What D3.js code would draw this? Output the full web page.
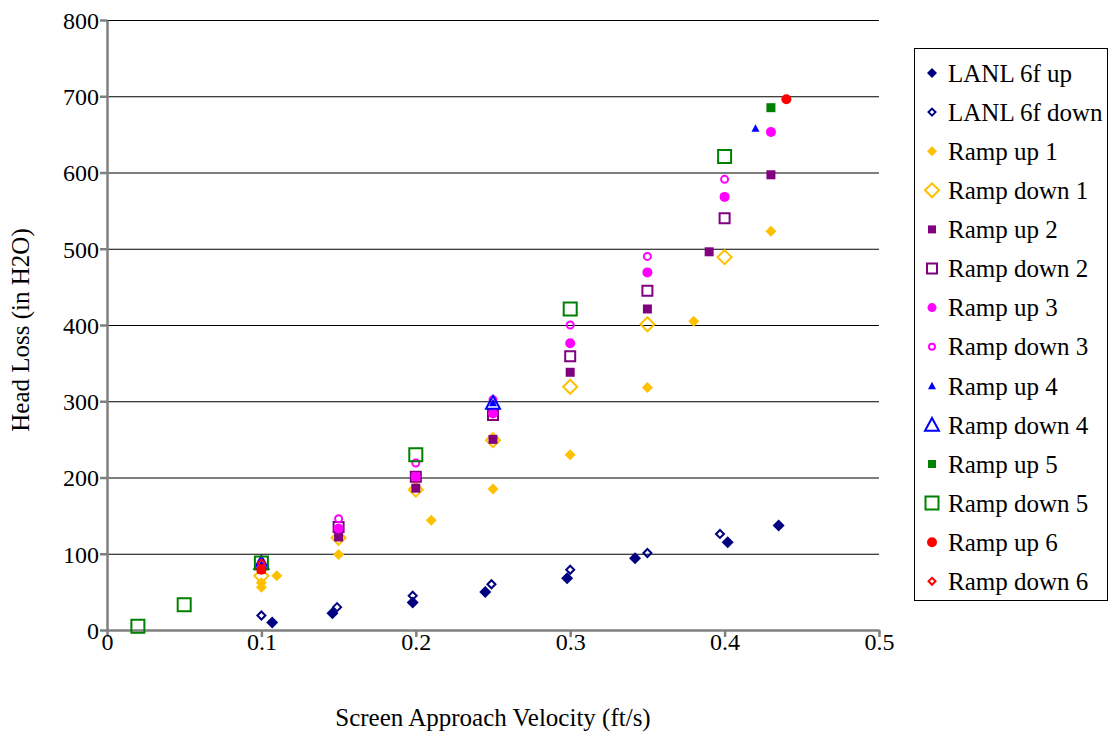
<!DOCTYPE html>
<html><head><meta charset="utf-8">
<script src="https://cdn.jsdelivr.net/npm/d3@7"></script>
<style>body{margin:0;background:#fff}svg{display:block}text{font-family:"Liberation Serif","Times New Roman",serif;fill:#000}</style>
</head><body><svg id="c" width="1112" height="736"></svg>
<script>
const xTicks=[0,0.1,0.2,0.3,0.4,0.5];
const yTicks=[0,100,200,300,400,500,600,700,800];
const xTickLabels=["0","0.1","0.2","0.3","0.4","0.5"];
const yTickLabels=["0","100","200","300","400","500","600","700","800"];

const lanlUpX=[0.107,0.146,0.198,0.245,0.298,0.342,0.402,0.435];
const lanlUpY=[10,22,36,50,68,94,115,137];
const lanlDownX=[0.1,0.149,0.198,0.249,0.3,0.35,0.397];
const lanlDownY=[19,30,45,60,79,101,126];
const up1X=[0.1,0.1,0.11,0.15,0.21,0.25,0.3,0.35,0.38,0.43];
const up1Y=[56,62,71,99,144,185,230,318,405,523];
const down1X=[0.1,0.15,0.2,0.25,0.3,0.35,0.4];
const down1Y=[71,121,184,249,319,401,489];
const up2X=[0.1,0.15,0.2,0.25,0.3,0.35,0.39,0.43];
const up2Y=[80,122,186,250,338,421,496,597];
const down2X=[0.15,0.2,0.25,0.3,0.35,0.4];
const down2Y=[135,201,282,359,445,540];
const up3X=[0.1,0.15,0.2,0.25,0.3,0.35,0.4,0.43];
const up3Y=[83,133,201,284,376,469,568,653];
const down3X=[0.1,0.15,0.2,0.25,0.3,0.35,0.4];
const down3Y=[88,146,219,302,400,490,591];
const up4X=[0.1,0.25,0.42];
const up4Y=[86,298,658];
const down4X=[0.1,0.25];
const down4Y=[88,298];
const up5X=[0.43];
const up5Y=[685];
const down5X=[0.02,0.05,0.1,0.2,0.3,0.4];
const down5Y=[5,33,88,230,421,621];
const up6X=[0.1,0.44];
const up6Y=[79,696];
const down6X=[0.1];
const down6Y=[88];

const series=[
 {name:"LANL 6f up",x:lanlUpX,y:lanlUpY,shape:"diamond",fill:true,color:"#000080",size:12,lsize:10},
 {name:"LANL 6f down",x:lanlDownX,y:lanlDownY,shape:"diamond",fill:false,color:"#000080",size:10,lsize:9},
 {name:"Ramp up 1",x:up1X,y:up1Y,shape:"diamond",fill:true,color:"#FFC000",size:11,lsize:10},
 {name:"Ramp down 1",x:down1X,y:down1Y,shape:"diamond",fill:false,color:"#FFC000",size:16,lsize:16},
 {name:"Ramp up 2",x:up2X,y:up2Y,shape:"square",fill:true,color:"#800080",size:9,lsize:8},
 {name:"Ramp down 2",x:down2X,y:down2Y,shape:"square",fill:false,color:"#800080",size:12,lsize:12},
 {name:"Ramp up 3",x:up3X,y:up3Y,shape:"circle",fill:true,color:"#FF00FF",size:10,lsize:9},
 {name:"Ramp down 3",x:down3X,y:down3Y,shape:"circle",fill:false,color:"#FF00FF",size:9,lsize:8},
 {name:"Ramp up 4",x:up4X,y:up4Y,shape:"triangle",fill:true,color:"#0000FF",size:8,lsize:8},
 {name:"Ramp down 4",x:down4X,y:down4Y,shape:"triangle",fill:false,color:"#0000FF",size:16,lsize:16},
 {name:"Ramp up 5",x:up5X,y:up5Y,shape:"square",fill:true,color:"#008000",size:9,lsize:8},
 {name:"Ramp down 5",x:down5X,y:down5Y,shape:"square",fill:false,color:"#008000",size:15,lsize:15},
 {name:"Ramp up 6",x:up6X,y:up6Y,shape:"circle",fill:true,color:"#FF0000",size:10,lsize:10},
 {name:"Ramp down 6",x:down6X,y:down6Y,shape:"diamond",fill:false,color:"#FF0000",size:9,lsize:9}
];

const svg=d3.select("#c");
const L=107,R=879,T=20,B=630;
const FS=25;
const x=d3.scaleLinear().domain([0,0.5]).range([L,R]);
const y=d3.scaleLinear().domain([0,800]).range([B,T]);

// gridlines
svg.append("g").selectAll("line").data(yTicks.filter(d=>d>0)).join("line")
 .attr("x1",L).attr("x2",R).attr("y1",d=>y(d)+0.5).attr("y2",d=>y(d)+0.5)
 .attr("stroke","#000").attr("stroke-width",1.2);

// axes
const xa=svg.append("g").attr("transform",`translate(0,${B})`)
 .call(d3.axisBottom(x).tickValues(xTicks).tickFormat((d,i)=>xTickLabels[i]).tickSize(7).tickSizeOuter(0));
const ya=svg.append("g").attr("transform",`translate(${L},0)`)
 .call(d3.axisLeft(y).tickValues(yTicks).tickFormat((d,i)=>yTickLabels[i]).tickSize(7).tickSizeOuter(0));
[xa,ya].forEach(a=>{a.select(".domain").attr("stroke","#808080").attr("stroke-width",2.5);
 a.selectAll(".tick line").attr("stroke","#808080").attr("stroke-width",2.5);
 a.selectAll("text").attr("font-family","Liberation Serif, serif").attr("font-size",FS-1).attr("fill","#000");});
xa.selectAll("text").attr("y",20).attr("dy","0");
ya.selectAll("text").attr("x",-8).attr("dy","0.35em");

// titles
svg.append("text").attr("x",493).attr("y",726).attr("text-anchor","middle").attr("font-size",FS).text("Screen Approach Velocity (ft/s)");
svg.append("text").attr("transform",`translate(29,330) rotate(-90)`).attr("text-anchor","middle").attr("font-size",FS).text("Head Loss (in H2O)");

function shapePath(shape,s){
 const h=s/2;
 if(shape==="diamond") return `M0,${-h}L${h},0L0,${h}L${-h},0Z`;
 if(shape==="square") return `M${-h},${-h}H${h}V${h}H${-h}Z`;
 if(shape==="triangle") return `M0,${-h}L${h},${h*0.85}L${-h},${h*0.85}Z`;
 return null;
}
function drawMarker(g,s,size,cx,cy){
 const sw=2;
 const inner=s.fill?size:size-sw;
 if(s.shape==="circle"){
   g.append("circle").attr("cx",cx).attr("cy",cy).attr("r",inner/2)
    .attr("fill",s.fill?s.color:"none").attr("stroke",s.fill?"none":s.color).attr("stroke-width",sw);
 } else {
   g.append("path").attr("transform",`translate(${cx},${cy})`).attr("d",shapePath(s.shape,inner))
    .attr("fill",s.fill?s.color:"none").attr("stroke",s.fill?"none":s.color).attr("stroke-width",sw);
 }
}

const pg=svg.append("g");
series.forEach(s=>{
 const g=pg.append("g");
 s.x.forEach((xv,i)=>drawMarker(g,s,s.size,x(xv),y(s.y[i])));
});

// legend
const lg=svg.append("g");
lg.append("rect").attr("x",914.5).attr("y",48.5).attr("width",193).attr("height",552).attr("fill","#fff").attr("stroke","#000").attr("stroke-width",1);
series.forEach((s,i)=>{
 const cy=73+i*39.1;
 drawMarker(lg,s,s.lsize,932,cy);
 lg.append("text").attr("x",948).attr("y",cy).attr("dy","0.35em").attr("font-size",FS).text(s.name);
});
</script></body></html>
